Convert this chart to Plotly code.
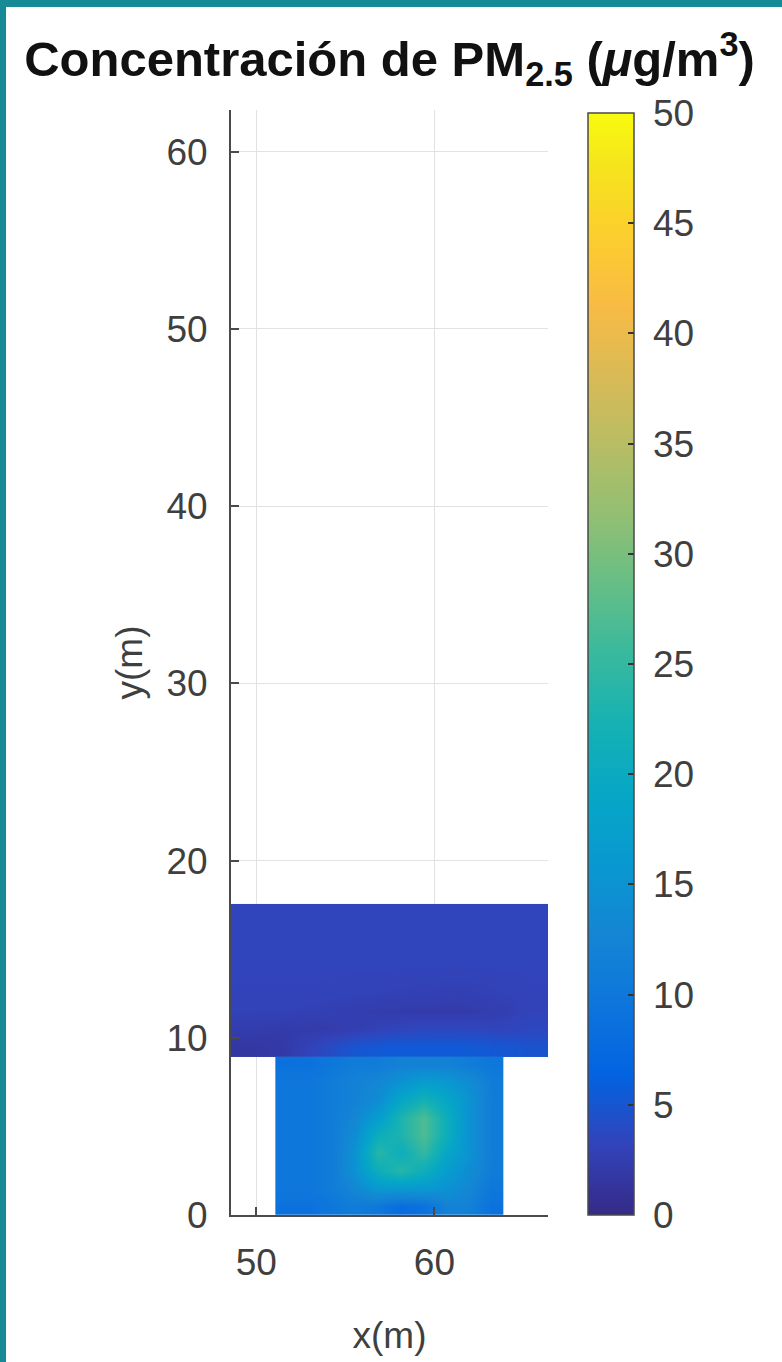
import plotly.graph_objects as go

# ---------------- data ----------------
# upper block (cell edges in metres)
upper_x = [48.0, 50.5, 52.5, 54.5, 56.5, 58.5, 60.5, 62.5, 64.5, 66.4]
upper_y = [8.93, 10.0, 11.0, 12.0, 13.5, 15.0, 16.3, 17.55]
upper_z = [
    [1.6, 2.0, 3.5, 5.0, 5.5, 5.5, 5.5, 5.2, 4.8],
    [2.4, 2.2, 2.2, 2.6, 3.2, 3.6, 3.6, 3.3, 3.6],
    [3.0, 3.0, 2.8, 2.5, 2.3, 2.2, 2.2, 2.5, 3.2],
    [3.2, 3.2, 3.2, 3.1, 3.0, 2.9, 2.8, 3.0, 3.2],
    [3.3, 3.3, 3.3, 3.3, 3.3, 3.3, 3.3, 3.3, 3.3],
    [3.3, 3.3, 3.3, 3.3, 3.3, 3.3, 3.3, 3.3, 3.3],
    [3.3, 3.3, 3.3, 3.3, 3.3, 3.3, 3.3, 3.3, 3.3],
]

# lower block (cell edges in metres)
lower_x = [51.07, 52.35, 53.63, 54.91, 56.19, 57.47, 58.75, 60.03, 61.31, 62.59, 63.87]
lower_y = [0, 1, 2, 3, 4, 5, 6, 7, 8, 8.93]
lower_z = [
    [9, 9, 10, 11, 10, 8, 9, 12, 12, 9],
    [10, 10, 11, 13, 16, 16, 16, 15, 13, 10],
    [10, 10, 11, 15, 21, 24, 21, 17, 14, 11],
    [10, 10, 11, 15, 24, 21, 25, 19, 15, 11],
    [10, 10, 11, 14, 21, 23, 27, 21, 15, 11],
    [10, 10, 11, 13, 17, 23, 27, 21, 15, 11],
    [10, 10, 11, 12, 14, 19, 22, 19, 15, 11],
    [10, 10, 11, 12, 13, 15, 17, 16, 14, 11],
    [9, 9, 10, 11, 11, 12, 12, 12, 11, 10],
]

x_ticks = [50, 60]
y_ticks = [0, 10, 20, 30, 40, 50, 60]
cbar_ticks = [0, 5, 10, 15, 20, 25, 30, 35, 40, 45, 50]
z_min, z_max = 0, 50
x_range = [48.58, 66.38]
y_range = [0, 62.35]

# ---------------- style ----------------
parula = [
    (53, 42, 135), (50, 67, 186), (3, 99, 225), (13, 117, 220), (20, 133, 212),
    (9, 152, 209), (6, 167, 198), (21, 177, 180), (56, 185, 158), (101, 190, 134),
    (146, 191, 115), (183, 189, 100), (217, 186, 86), (248, 187, 68), (252, 206, 46),
    (245, 228, 29), (249, 251, 14),
]
idx = [0, 4, 8, 12, 16, 20, 24, 28, 32, 36, 40, 44, 48, 52, 56, 60, 63]
colorscale = [[i / 63, "rgb(%d,%d,%d)" % c] for i, c in zip(idx, parula)]

FONT = "Liberation Sans, Arial, sans-serif"
AX = "#4a4a4a"
TXT = "#3f3f3f"
W, H = 782, 1362
ML, MR, MT, MB = 231, 234, 110, 147
PW, PH = W - ML - MR, H - MT - MB

common = dict(zmin=z_min, zmax=z_max, colorscale=colorscale, zsmooth="best",
              hoverinfo="skip")

fig = go.Figure()
fig.add_trace(go.Heatmap(x=upper_x, y=upper_y, z=upper_z, showscale=False, **common))
fig.add_trace(go.Heatmap(
    x=lower_x, y=lower_y, z=lower_z, showscale=True,
    colorbar=dict(
        x=(588 - ML) / PW, xanchor="left", xref="paper",
        y=0, yanchor="bottom", yref="paper",
        len=1102, lenmode="pixels", thickness=46,
        xpad=0, ypad=0,
        outlinecolor=AX, outlinewidth=1.5,
        ticks="inside", ticklen=6, tickwidth=1.5, tickcolor="#333333",
        tickvals=cbar_ticks,
        ticktext=["\u00a0" + str(v) for v in cbar_ticks],
        tickfont=dict(family=FONT, size=37, color=TXT),
    ),
    **common))

axis_common = dict(
    showline=True, linecolor=AX, linewidth=2, mirror=False,
    ticks="inside", ticklen=8, tickwidth=1.5, tickcolor=AX,
    showgrid=True, gridcolor="#e2e2e2", gridwidth=1, zeroline=False,
    tickfont=dict(family=FONT, size=37, color=TXT),
)

fig.update_layout(
    width=W, height=H,
    margin=dict(l=ML, r=MR, t=MT, b=MB, autoexpand=False),
    paper_bgcolor="white", plot_bgcolor="white",
    font=dict(family=FONT, color=TXT),
    title=dict(
        text="<b>Concentración de PM<sub>2.5</sub> (<i>μ</i>g/m<sup>3</sup>)</b>",
        font=dict(family=FONT, size=49, color="#111111"),
        x=0.5, xref="paper", xanchor="center",
        y=1 - 59 / H, yref="container", yanchor="middle",
    ),
    xaxis=dict(range=x_range, tickvals=x_ticks, ticklabelstandoff=14,
               title=dict(text="x(m)", font=dict(family=FONT, size=37, color=TXT),
                          standoff=40),
               **axis_common),
    yaxis=dict(range=y_range, tickvals=y_ticks, ticklabelstandoff=14,
               title=dict(text="y(m)", font=dict(family=FONT, size=37, color=TXT),
                          standoff=12),
               **axis_common),
    showlegend=False,
)

# teal frame on top and left edges of the picture
teal = "#178a97"
def px_x(p):
    return (p - ML) / PW
def px_y(p):
    return (H - MB - p) / PH
fig.add_shape(type="rect", xref="paper", yref="paper",
              x0=px_x(0), x1=px_x(W), y0=px_y(7), y1=px_y(0),
              fillcolor=teal, line=dict(width=0), layer="above")
fig.add_shape(type="rect", xref="paper", yref="paper",
              x0=px_x(0), x1=px_x(6), y0=px_y(H), y1=px_y(0),
              fillcolor=teal, line=dict(width=0), layer="above")

fig.write_html("out.html")
